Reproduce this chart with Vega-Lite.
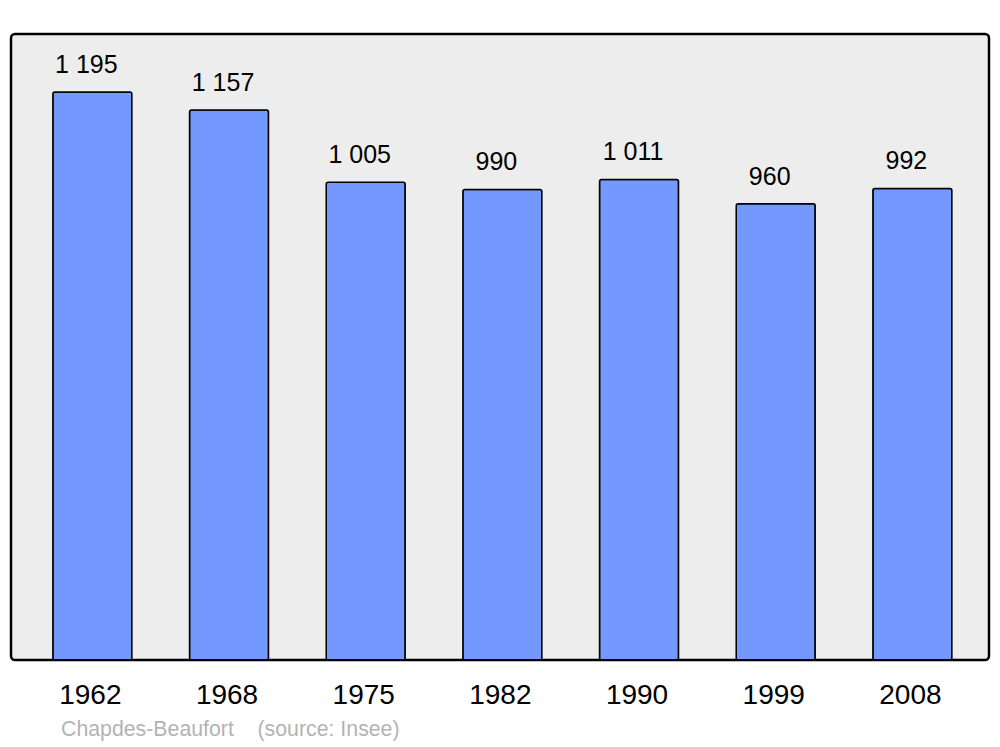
{
  "$schema": "https://vega.github.io/schema/vega-lite/v6.json",
  "width": 978,
  "height": 626,
  "autosize": {"type": "none"},
  "padding": {"left": 11, "top": 34, "right": 11, "bottom": 87},
  "background": "#ffffff",
  "config": {
    "font": "Liberation Sans",
    "view": {"fill": "#ededed", "stroke": "#000000", "strokeWidth": 2.5, "cornerRadius": 4},
    "locale": {"number": {"decimal": ",", "thousands": "\u00a0", "grouping": [3], "currency": ["", " €"]}}
  },
  "title": {
    "text": "Chapdes-Beaufort\u00a0\u00a0\u00a0\u00a0(source: Insee)",
    "orient": "bottom",
    "anchor": "start",
    "frame": "group",
    "fontSize": 21.3,
    "fontWeight": "normal",
    "color": "#b3b3b3",
    "font": "Liberation Sans",
    "dx": 50,
    "offset": 10
  },
  "data": {
    "values": [
      {"year": "1962", "population": 1195},
      {"year": "1968", "population": 1157},
      {"year": "1975", "population": 1005},
      {"year": "1982", "population": 990},
      {"year": "1990", "population": 1011},
      {"year": "1999", "population": 960},
      {"year": "2008", "population": 992}
    ]
  },
  "encoding": {
    "x": {
      "field": "year",
      "type": "nominal",
      "sort": null,
      "scale": {"paddingInner": 0.422, "paddingOuter": 0.289, "align": 0.53},
      "axis": {
        "title": null,
        "domain": false,
        "ticks": false,
        "labelAngle": 0,
        "labelFontSize": 28,
        "labelColor": "#000000",
        "labelBaseline": "alphabetic",
        "labelPadding": 43,
        "labelOffset": -2
      }
    },
    "y": {
      "field": "population",
      "type": "quantitative",
      "scale": {"domain": [0, 1317], "nice": false, "zero": true},
      "axis": null
    }
  },
  "layer": [
    {
      "mark": {"type": "bar", "fill": "#7399ff", "stroke": "#000000", "strokeWidth": 1.5, "cornerRadius": 2}
    },
    {
      "mark": {"type": "text", "fontSize": 25, "color": "#000000", "baseline": "alphabetic", "align": "center", "dy": -19, "dx": -6},
      "encoding": {
        "text": {"field": "population", "type": "quantitative", "format": ",d"}
      }
    }
  ]
}
